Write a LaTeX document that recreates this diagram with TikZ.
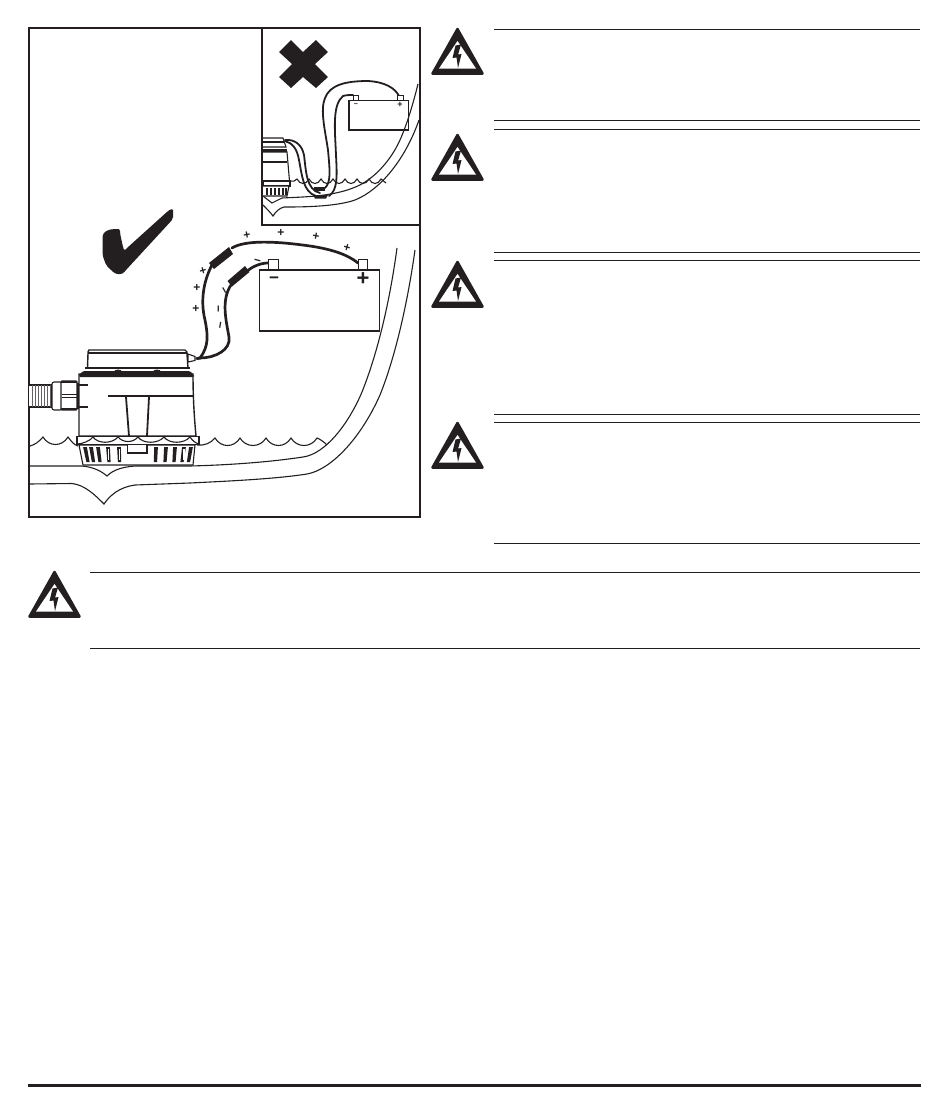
\documentclass[tikz,border=0pt]{standalone}
\usepackage{fontspec}
\setmainfont{Liberation Sans}
\definecolor{ink}{HTML}{231F20}
\tikzset{
  rule/.style={draw=ink,line width=1pt},
  thinl/.style={draw=ink,line width=1.1pt},
  medl/.style={draw=ink,line width=1.4pt},
  cable/.style={draw=ink,line width=2.7pt,line cap=round},
  thincable/.style={draw=ink,line width=1.8pt,line cap=round},
  blk/.style={fill=ink,draw=none},
  barb/.style={draw=ink,line width=2pt},
  sign/.style={text=ink,inner sep=0pt,font=\bfseries\fontsize{12}{12}\selectfont},
  warn/.pic={
    \fill[ink,draw=ink,line width=2.5pt,line join=round] (0,2) -- (-25,46.5) -- (25,46.5) -- cycle;
    \fill[white] (0,14) -- (-18.5,41.5) -- (18.5,41.5) -- cycle;
    \fill[ink] (-2,18.5) -- (3.5,17.5) -- (0.6,27.5) -- (4,27) -- (0.5,41) -- (-1,30.5) -- (-5,31) -- cycle;
  }
}
\begin{document}
\begin{tikzpicture}[x=1pt,y=-1pt]
\useasboundingbox (0,0) rectangle (950,1112);
% --- main frame
\draw[medl] (29,28) rectangle (420,517);
\draw[medl] (262,28) -- (262,225) -- (420,225);
% --- big hull
\draw[thinl] (29,466) -- (82,466) .. controls (92,467) and (100,470) .. (107,476) .. controls (113,470) and (122,467) .. (135,466) -- (190,466)
  .. controls (230,465) and (270,462) .. (303,457) .. controls (325,454) and (348,425) .. (362,392) .. controls (378,352) and (390,300) .. (397,248);
\draw[thinl] (29,484) -- (72,483.5) .. controls (85,485) and (95,495) .. (104,504) .. controls (110,495) and (120,487) .. (135,485) -- (190,483)
  .. controls (230,481) and (275,479) .. (307,474) .. controls (330,470) and (360,440) .. (380,395) .. controls (396,355) and (408,300) .. (415,250);
% --- big water
\draw[thinl] (30,446) .. controls (34,445) and (39,442) .. (43,437) .. controls (49,447) and (62,447) .. (68,437) .. controls (71,441) and (74,445) .. (78,446);
\draw[thinl] (197,445) .. controls (204,446) and (211,443) .. (215,438)
  .. controls +(6,10) and +(-6,10) .. ++(25,0) .. controls +(6,10) and +(-6,10) .. ++(26,0)
  .. controls +(6,10) and +(-6,10) .. ++(25,0) .. controls +(6,10) and +(-6,10) .. ++(26,0)
  .. controls +(3,1) and +(-3,-3) .. ++(10,7);
% --- hose
\draw[thinl,fill=white] (29,385) -- (52,385) -- (52,407) -- (29,407);
\foreach \hx in {32,35,38,41,44,47,50} \draw[line width=0.8pt,draw=ink!70] (\hx,385) -- (\hx,407);
\draw[thinl,fill=white,rounded corners=2pt] (52,382) rectangle (62,410);
\draw[thinl,fill=white,rounded corners=1pt] (61,381) rectangle (77,410);
\draw[barb] (61,382) -- (77,382);
\draw[barb] (61,409) -- (77,409);
\draw[line width=1pt,draw=ink] (62,394.5) -- (77,394.5);
\draw[line width=1pt,draw=ink] (62,397) -- (77,397);
\fill[ink] (77,383) rectangle (79.5,409);
% --- pump body
\draw[medl,fill=white] (79,374) -- (79,436) -- (196,436) .. controls (194,415) and (193,395) .. (193,374) -- cycle;
\draw[medl,fill=white,rounded corners=2pt] (87.5,368) -- (88,354) .. controls (88,352) and (89,350) .. (91,350) -- (183,350) .. controls (185,350) and (187,352) .. (187,354) -- (188,368);
\draw[thinl] (88,353) -- (187,353);
\draw[blk,rounded corners=1.5pt] (79,377) -- (79,375) -- (83,371) -- (190,371) -- (194,375) -- (194,377) -- cycle;
\fill[ink] (118,372) ellipse (4pt and 2.5pt);
\fill[ink] (157,372) ellipse (4pt and 2.5pt);
\draw[thinl] (85,368) -- (190,368);
\draw[thinl] (79,385) -- (88,385);
\draw[thinl] (79,407) -- (88,407);
\draw[medl] (108,396) -- (193,396);
\draw[line width=1.8pt,draw=ink] (126,397) -- (129,436);
\draw[line width=1.8pt,draw=ink] (149,397) -- (147,436);
% --- pump base
\draw[thinl,fill=white] (79,445) -- (83,465) -- (193,465) -- (195,445) -- cycle;
\foreach \bx/\by in {85/88,91/93.5,98/100,108/109,119/119.5,156/155.5,166/165,175/174,184/182,191/188.5}
  \fill[ink] (\bx-1.9,447) -- (\bx+1.9,447) -- (\by+1.6,462) -- (\by-1.6,462) -- cycle;
\fill[white] (107.5,449) rectangle (109,460);
\fill[white] (118.5,449) rectangle (120,460);
\fill[white] (183.3,449) rectangle (184.5,460);
\draw[medl,fill=white] (127.5,444) -- (127.5,453) -- (147,453) -- (147,444);
\fill[ink] (133,451.5) rectangle (136,452.5);
\fill[ink] (138,451.5) rectangle (142,452.5);
\draw[medl,fill=white] (77,436.5) rectangle (199,444.5);
\draw[thinl] (77,444) .. controls (82,444) and (90,441) .. (93,437) .. controls (98,444) and (112,444) .. (118,437)
 .. controls (123,443) and (133,443) .. (138,437) .. controls (143,444) and (158,444) .. (164,437) .. controls (169,444) and (184,444) .. (190,437) .. controls (192,440) and (195,443) .. (199,444);
% --- plug and cables
\coordinate (bp) at (197,358.5);
\coordinate (bm) at (268,263);
\coordinate (tp) at (358,263);
\draw[cable] (bp) -- (200,358) .. controls (209,346) and (208,335) .. (205,320) .. controls (200,300) and (204,280) .. (212,265);
\draw[cable] (232,248) .. controls (245,240) and (275,241) .. (310,246) .. controls (330,249) and (347,254) .. (tp);
\draw[cable] (bp) -- (200,358) .. controls (215,358) and (231,350) .. (229,337) .. controls (226,320) and (221,300) .. (231,285);
\draw[cable] (247,271) .. controls (252,267) and (260,263) .. (bm);
\draw[thinl,fill=white] (188,354) -- (195,356.5) -- (195,360.5) -- (188,362) -- cycle;
\fill[ink] (209,263) -- (229,247) -- (233,254) -- (214,269) -- cycle;
\fill[ink] (227.5,281) -- (245,266) -- (249.5,272) -- (232,286.5) -- cycle;
% --- battery
\node[draw=ink,line width=1pt,minimum width=9.5pt,minimum height=9.5pt,inner sep=0pt,fill=white] (termN) at (273.5,264.5) {};
\node[draw=ink,line width=1pt,minimum width=9.5pt,minimum height=9.5pt,inner sep=0pt,fill=white] (termP) at (363,264.5) {};
\draw[thinl] (259.5,270) rectangle (379.5,331);
\node[inner sep=0pt,text=ink,font=\bfseries\fontsize{17}{17}\selectfont] (lblN) at (274,280) {−};
\node[inner sep=0pt,text=ink,font=\bfseries\fontsize{22}{22}\selectfont] (lblP) at (363,279) {+};
\node[sign,rotate=10] (p1) at (247,235) {+};
\node[sign] (p2) at (281,233) {+};
\node[sign,rotate=-10] (p3) at (316,237) {+};
\node[sign,rotate=-15] (p4) at (347,248) {+};
\node[sign,rotate=15] (p5) at (203,271) {+};
\node[sign] (p6) at (197,288) {+};
\node[sign] (p7) at (196,309) {+};
\node[sign,rotate=-15] (m1) at (257,262) {−};
\node[sign,rotate=-60] (m2) at (223,291) {−};
\node[sign,rotate=90] (m3) at (220,309) {−};
\node[sign,rotate=80] (m4) at (222,326) {−};
% --- check
\fill[ink,rounded corners=2pt] (102.5,238) .. controls (103,232) and (108,229) .. (117,229) .. controls (119,229) and (120,231) .. (120,233)
  -- (123,247) .. controls (124,250) and (125,250) .. (127,248) -- (168,211) .. controls (171,209) and (173,209) .. (173,212)
  -- (173,219) -- (126,270) .. controls (122,275) and (117,275) .. (112,271) -- (106,265) -- (102.5,255) -- cycle;
% --- cross
\fill[ink] (291,40) -- (303,52) -- (316,40) -- (328,52) -- (315,64) -- (328,77) -- (316,88) -- (303,77) -- (291,88) -- (279,77) -- (292,64) -- (279,52) -- cycle;
% --- inset hull
\draw[thinl] (263,196) -- (272,203) -- (282,198) .. controls (300,197) and (330,197) .. (353,188) .. controls (375,180) and (392,158) .. (400,140) .. controls (408,122) and (414,100) .. (418,84);
\draw[thinl] (263,205) .. controls (267,209) and (270,212) .. (273,216) .. controls (276,211) and (280,208) .. (284,207) .. controls (300,207) and (335,207) .. (355,200) .. controls (380,190) and (405,160) .. (419,120);
% --- inset water
\draw[thinl] (290,181) .. controls (293,182) and (295,181) .. (297,179) .. controls +(3,6) and +(-3,6) .. ++(12,0) .. controls +(3,6) and +(-3,6) .. ++(12,0) .. controls +(3,6) and +(-3,6) .. ++(12,0) .. controls +(3,6) and +(-3,6) .. ++(12,0)
  .. controls +(3,6) and +(-3,6) .. ++(12,0) .. controls +(3,6) and +(-3,6) .. ++(12,0) .. controls +(3,6) and +(-3,6) .. ++(12,0) .. controls +(2,2) and +(-2,-2) .. ++(5,4);
% --- inset pump
\draw[thinl,fill=white] (263,138) -- (283,138) -- (286,147) -- (263,147);
\draw[thinl] (263,142) -- (284,142);
\fill[ink] (263,149) rectangle (287,151.5);
\draw[thinl,fill=white] (263,152) -- (287,152) -- (289.5,181) -- (263,181);
\draw[thinl] (263,162) -- (287,162);
\draw[thinl,fill=white] (263,181) rectangle (290,186);
\draw[thinl,fill=white] (263,186) -- (289,186) -- (287,196) -- (263,196);
\foreach \ix in {267,271,275,279,283,286} \fill[ink] (\ix-.8,188) rectangle (\ix+.8,195);
% --- inset cables
\coordinate (nT) at (353,95);
\coordinate (pT) at (399,96);
\draw[thincable] (285,140) .. controls (295,139) and (302,145) .. (304,155) .. controls (306,170) and (306,190) .. (320,193);
\draw[thincable] (285,141) .. controls (292,143) and (297,148) .. (299,160) .. controls (302,175) and (303,192) .. (316,196);
\draw[thincable] (325,188) .. controls (331,182) and (330,172) .. (328,150) .. controls (325,130) and (320,110) .. (325,98) .. controls (330,85) and (345,81) .. (368,81) .. controls (385,82) and (395,88) .. (pT);
\draw[thincable] (329,196) .. controls (338,190) and (337,175) .. (336,155) .. controls (335,130) and (332,105) .. (343,96) .. controls (346,95) and (350,95) .. (nT);
\fill[ink] (314,187) -- (325,187) -- (325,190.5) -- (314,190.5) -- cycle;
\fill[ink] (313,195) -- (328,195) -- (326,198.5) -- (315,198.5) -- cycle;
% --- inset battery
\node[draw=ink,line width=0.8pt,minimum width=5.5pt,minimum height=4.5pt,inner sep=0pt,fill=white] (itermN) at (356,98) {};
\node[draw=ink,line width=0.8pt,minimum width=5.5pt,minimum height=4.5pt,inner sep=0pt,fill=white] (itermP) at (400.5,98) {};
\draw[thinl] (349,100.5) rectangle (408.5,130);
\node[sign,font=\bfseries\fontsize{7}{7}\selectfont] (ilN) at (356,105) {−};
\node[sign,font=\bfseries\fontsize{9}{9}\selectfont] (ilP) at (400,105) {+};
% --- warnings
\pic at (457.5,27) {warn};
\pic at (457.5,133) {warn};
\pic at (457.5,260) {warn};
\pic at (457.5,421) {warn};
\pic at (54.5,570) {warn};
% --- rules
\foreach \ry in {29.5,120,129.5,252,260,414,422.5,543}
  \draw[rule] (494,\ry) -- (920,\ry);
\draw[rule] (90,572) -- (920,572);
\draw[rule] (90,648) -- (920,648);
\draw[ink,line width=3pt] (28,1085) -- (921,1085);
\end{tikzpicture}
\end{document}
